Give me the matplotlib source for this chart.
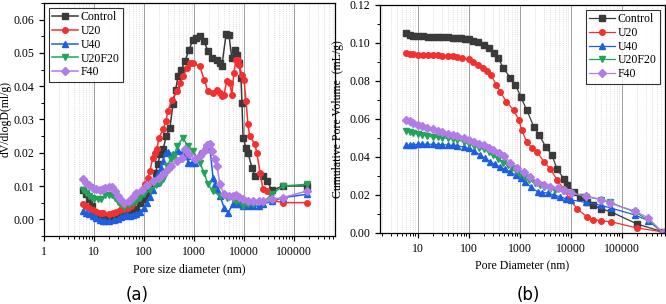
import numpy as np
import matplotlib
matplotlib.use('Agg')
import matplotlib.pyplot as plt
from matplotlib.ticker import LogLocator, NullFormatter, FuncFormatter, MultipleLocator

plt.rcParams['font.family'] = ['Liberation Serif', 'DejaVu Serif']

names = ['Control', 'U20', 'U40', 'U20F20', 'F40']
colors = ['#3a3a3a', '#f23030', '#1e5fe0', '#22a35a', '#b27ce6']
markers = ['s', 'o', '^', 'v', 'D']

# (a) dV/dlogD
d_ctrl = [6, 7, 8, 9, 10, 12, 15, 20, 25, 30, 38, 50, 60, 70, 83, 100, 115, 130, 150, 170, 190, 210, 240, 280, 330, 380, 430, 480, 560, 660, 800, 955, 1100, 1320, 1600, 1900, 2300, 2900, 3300, 3600, 4400, 5000, 5700, 6600, 7300, 8000, 8700, 9100, 9600, 11000, 12000, 14400, 16600, 24000, 29000, 36000, 60000, 180000]
v_ctrl = [0.0088, 0.0075, 0.006, 0.004, 0.0022, 0.0012, 0.0006, 0.0004, 0.0004, 0.0007, 0.0012, 0.0016, 0.0022, 0.0032, 0.0048, 0.0062, 0.0078, 0.0095, 0.0116, 0.014, 0.0167, 0.0195, 0.021, 0.025, 0.0275, 0.0346, 0.039, 0.043, 0.045, 0.0475, 0.051, 0.054, 0.0545, 0.055, 0.0535, 0.0505, 0.0484, 0.048, 0.047, 0.046, 0.0558, 0.0555, 0.0484, 0.051, 0.0495, 0.047, 0.0424, 0.035, 0.0245, 0.0215, 0.02, 0.0155, 0.013, 0.013, 0.0116, 0.0087, 0.010, 0.010]

d_u20 = [6, 7, 8, 9.5, 11, 13, 15, 20, 24, 28, 33, 40, 47, 55, 60, 70, 83, 95, 105, 120, 132, 150, 165, 180, 200, 240, 275, 300, 365, 460, 530, 600, 720, 850, 950, 1300, 1600, 1900, 2400, 2900, 3300, 3600, 4000, 4500, 5200, 5700, 6300, 6900, 7600, 7900, 9100, 10000, 11000, 12000, 13000, 16600, 18000, 21000, 24000, 29000, 38000, 60000, 180000]
v_u20 = [0.0045, 0.004, 0.0035, 0.0027, 0.0022, 0.0019, 0.0018, 0.0017, 0.0018, 0.0022, 0.0027, 0.003, 0.0033, 0.004, 0.0048, 0.006, 0.0075, 0.009, 0.0105, 0.0125, 0.0146, 0.0185, 0.02, 0.021, 0.0245, 0.027, 0.0295, 0.0325, 0.036, 0.0385, 0.041, 0.043, 0.0455, 0.047, 0.047, 0.046, 0.042, 0.0385, 0.038, 0.039, 0.038, 0.037, 0.0375, 0.0415, 0.041, 0.0375, 0.044, 0.048, 0.048, 0.0465, 0.0435, 0.042, 0.0355, 0.0285, 0.025, 0.0225, 0.02, 0.014, 0.009, 0.0085, 0.0057, 0.005, 0.005]

d_u40 = [6, 7, 8, 9.5, 11, 13, 15, 17, 20, 25, 30, 35, 40, 45, 52, 60, 70, 83, 100, 115, 130, 150, 170, 190, 215, 240, 270, 300, 380, 480, 600, 720, 760, 900, 1050, 1300, 1600, 1900, 2100, 2400, 2600, 2900, 3300, 4000, 4800, 6000, 7200, 8400, 9600, 12000, 15000, 20000, 24000, 36000, 60000, 180000]
v_u40 = [0.0025, 0.0018, 0.0015, 0.0011, 0.0005, -0.0002, -0.0004, -0.0005, -0.0005, -0.0003, 0.0002, 0.0008, 0.0011, 0.0012, 0.0011, 0.0013, 0.0017, 0.0022, 0.0035, 0.005, 0.0068, 0.0088, 0.011, 0.0137, 0.0155, 0.0176, 0.020, 0.0203, 0.0195, 0.0206, 0.020, 0.019, 0.017, 0.017, 0.017, 0.020, 0.021, 0.0227, 0.021, 0.0125, 0.0105, 0.009, 0.007, 0.0035, 0.002, 0.0045, 0.0045, 0.0045, 0.004, 0.004, 0.004, 0.004, 0.0045, 0.0055, 0.0065, 0.0075]

d_u20f20 = [6, 7, 8, 9, 10, 12, 14, 17, 20, 23, 26, 30, 33, 40, 50, 60, 70, 85, 100, 135, 170, 210, 240, 270, 290, 340, 400, 460, 600, 750, 960, 1300, 1600, 1900, 2400, 3300, 4500, 6000, 7000, 9600, 12000, 15000, 24000, 36000, 60000, 180000]
v_u20f20 = [0.0088, 0.0078, 0.007, 0.0063, 0.006, 0.006, 0.0062, 0.0072, 0.0073, 0.0072, 0.0065, 0.0052, 0.0045, 0.0038, 0.0043, 0.0048, 0.0055, 0.0065, 0.0075, 0.0087, 0.0102, 0.011, 0.012, 0.014, 0.016, 0.018, 0.019, 0.022, 0.0245, 0.022, 0.0206, 0.017, 0.014, 0.0105, 0.0085, 0.007, 0.0065, 0.006, 0.0055, 0.004, 0.0045, 0.0045, 0.005, 0.0075, 0.010, 0.0105]

d_f40 = [6, 7, 8, 9.5, 11, 13, 15, 17, 20, 23, 26, 30, 33, 40, 50, 60, 70, 90, 115, 150, 200, 240, 300, 350, 450, 575, 660, 800, 1050, 1300, 1600, 1800, 2100, 2300, 2600, 2900, 3300, 4000, 5000, 6000, 7000, 8000, 9600, 12000, 15000, 20000, 24000, 36000, 60000, 180000]
v_f40 = [0.0122, 0.011, 0.0102, 0.0095, 0.009, 0.0087, 0.009, 0.0094, 0.0096, 0.0098, 0.0085, 0.007, 0.006, 0.005, 0.0055, 0.0068, 0.0078, 0.0087, 0.0102, 0.0116, 0.0125, 0.0135, 0.015, 0.016, 0.0175, 0.0185, 0.021, 0.0195, 0.018, 0.019, 0.0205, 0.0224, 0.0225, 0.0205, 0.018, 0.016, 0.0105, 0.0075, 0.007, 0.007, 0.0072, 0.0068, 0.006, 0.0055, 0.0055, 0.0055, 0.0055, 0.006, 0.0065, 0.0085]

# (b) cumulative pore volume
c_ctrl_d = [6, 7, 8, 10, 13, 16, 20, 25, 30, 40, 50, 60, 70, 85, 100, 120, 150, 200, 250, 310, 380, 480, 660, 830, 1050, 1380, 1900, 2400, 3250, 4300, 5400, 7400, 8500, 11700, 15000, 21000, 28000, 40000, 63000, 200000, 650000]
c_ctrl_v = [0.105, 0.104, 0.1037, 0.1035, 0.1034, 0.1033, 0.1032, 0.1031, 0.103, 0.1029, 0.1028, 0.1026, 0.1024, 0.1021, 0.1018, 0.1012, 0.1003, 0.099, 0.0975, 0.0948, 0.092, 0.0868, 0.0815, 0.078, 0.0716, 0.0647, 0.0558, 0.0516, 0.0453, 0.041, 0.0337, 0.0284, 0.0253, 0.0216, 0.019, 0.0163, 0.0145, 0.0126, 0.011, 0.0047, 0.0005]

c_u20_d = [6, 7, 8, 10, 13, 16, 20, 25, 30, 40, 50, 60, 75, 100, 123, 155, 195, 230, 270, 350, 420, 550, 760, 960, 1100, 1380, 1750, 2200, 3000, 4000, 5400, 7400, 9400, 13500, 21000, 28000, 40000, 63000, 200000, 650000]
c_u20_v = [0.0945, 0.0942, 0.094, 0.0938, 0.0937, 0.0936, 0.0935, 0.0934, 0.0933, 0.0931, 0.093, 0.0927, 0.0922, 0.0913, 0.090, 0.0885, 0.0868, 0.085, 0.0832, 0.078, 0.0742, 0.069, 0.0647, 0.0595, 0.054, 0.048, 0.0447, 0.0426, 0.0374, 0.0337, 0.028, 0.023, 0.018, 0.0126, 0.0084, 0.007, 0.0063, 0.0058, 0.0026, 0.0005]

c_u40_d = [6, 7, 8, 10, 12, 15, 20, 25, 30, 40, 50, 60, 80, 100, 130, 170, 210, 265, 330, 415, 520, 660, 850, 1050, 1300, 1650, 2250, 2800, 3550, 4800, 6300, 8000, 10000, 20000, 40000, 63000, 180000, 330000, 650000]
c_u40_v = [0.046, 0.0462, 0.0464, 0.0466, 0.0467, 0.0467, 0.0466, 0.0465, 0.0464, 0.0462, 0.046, 0.0458, 0.0452, 0.0445, 0.043, 0.041, 0.0392, 0.0374, 0.036, 0.0347, 0.0335, 0.032, 0.0305, 0.029, 0.0268, 0.0242, 0.0216, 0.0212, 0.021, 0.0198, 0.019, 0.018, 0.0174, 0.016, 0.0145, 0.013, 0.0095, 0.0065, 0.0]

c_u20f20_d = [6, 7, 8, 10, 12, 15, 20, 25, 30, 40, 50, 60, 80, 100, 130, 160, 200, 250, 300, 380, 480, 580, 700, 850, 1000, 1250, 1500, 2000, 2500, 3000, 4000, 5000, 7000, 10000, 20000, 40000, 60000, 180000, 330000, 650000]
c_u20f20_v = [0.0535, 0.053, 0.0525, 0.052, 0.0514, 0.051, 0.0505, 0.0502, 0.05, 0.0497, 0.0495, 0.049, 0.048, 0.047, 0.0458, 0.0448, 0.044, 0.0425, 0.041, 0.039, 0.037, 0.0355, 0.034, 0.0325, 0.031, 0.0295, 0.028, 0.026, 0.025, 0.024, 0.023, 0.0225, 0.0218, 0.021, 0.019, 0.0175, 0.016, 0.011, 0.007, 0.0]

c_f40_d = [6, 7, 8, 10, 12, 15, 20, 25, 30, 40, 50, 60, 80, 100, 130, 160, 200, 250, 300, 400, 500, 660, 900, 1200, 1600, 2200, 3000, 4000, 5600, 7500, 10000, 20000, 40000, 60000, 180000, 330000, 650000]
c_f40_v = [0.0595, 0.0588, 0.058, 0.057, 0.0562, 0.0552, 0.0545, 0.0535, 0.053, 0.052, 0.0515, 0.051, 0.05, 0.049, 0.0478, 0.047, 0.046, 0.0448, 0.0435, 0.042, 0.0405, 0.0368, 0.034, 0.032, 0.0295, 0.027, 0.025, 0.0242, 0.0235, 0.0225, 0.021, 0.0195, 0.0175, 0.0155, 0.0115, 0.008, 0.0]

dist = [(d_ctrl, v_ctrl), (d_u20, v_u20), (d_u40, v_u40), (d_u20f20, v_u20f20), (d_f40, v_f40)]
cum = [(c_ctrl_d, c_ctrl_v), (c_u20_d, c_u20_v), (c_u40_d, c_u40_v), (c_u20f20_d, c_u20f20_v), (c_f40_d, c_f40_v)]

fig = plt.figure(figsize=(6.66, 3.04), dpi=100)
ax1 = fig.add_axes([0.066, 0.224, 0.437, 0.766])
ax2 = fig.add_axes([0.571, 0.234, 0.427, 0.75])

for ax in (ax1, ax2):
    ax.set_xscale('log')
    ax.xaxis.set_major_locator(LogLocator(base=10, numticks=10))
    ax.xaxis.set_minor_locator(LogLocator(base=10, subs=np.arange(2, 10), numticks=20))
    ax.xaxis.set_minor_formatter(NullFormatter())
    ax.xaxis.set_major_formatter(FuncFormatter(lambda x, p: '%d' % round(x)))
    ax.grid(True, which='major', axis='x', color='#a0a0a0', lw=0.7)
    ax.grid(True, which='minor', axis='x', color='#c8c8c8', lw=0.5, ls=':')
    ax.tick_params(which='major', direction='out', length=3.5, width=0.9, labelsize=8.5)
    ax.tick_params(which='minor', direction='out', length=2, width=0.7)
    ax.set_axisbelow(True)
    for s in ax.spines.values():
        s.set_linewidth(0.9)

for (d, v), n, c, m in zip(dist, names, colors, markers):
    ax1.plot(d, v, color=c, marker=m, ms=4, lw=1.1, label=n)
for (d, v), n, c, m in zip(cum, names, colors, markers):
    ax2.plot(d, v, color=c, marker=m, ms=4, lw=0.9, label=n)

ax1.set_xlim(1, 6.6e5)
ax1.set_ylim(-0.005, 0.065)
ax1.yaxis.set_major_locator(MultipleLocator(0.01))
ax1.yaxis.set_minor_locator(MultipleLocator(0.005))
ax1.yaxis.set_major_formatter(FuncFormatter(lambda y, p: '%.2f' % y))
ax1.set_xlabel('Pore size diameter (nm)', fontsize=8.5)
ax1.set_ylabel('dV/dlogD(ml/g)', fontsize=8.5, labelpad=1)
ax1.legend(loc='upper left', fontsize=8.5, frameon=True, fancybox=False, edgecolor='black',
           handlelength=2.2, borderpad=0.3, labelspacing=0.15, handletextpad=0.2,
           borderaxespad=0.4).get_frame().set_linewidth(0.8)

ax2.set_xlim(1.85, 7e5)
ax2.set_ylim(0, 0.12)
ax2.yaxis.set_major_locator(MultipleLocator(0.02))
ax2.yaxis.set_minor_locator(MultipleLocator(0.01))
ax2.yaxis.set_major_formatter(FuncFormatter(lambda y, p: '%.2f' % y))
ax2.set_xlabel('Pore Diameter (nm)', fontsize=8.5)
ax2.set_ylabel('Cumulative Pore Volume  (mL/g)', fontsize=8.5)
ax2.legend(loc='upper right', fontsize=8.5, frameon=True, fancybox=False, edgecolor='black',
           handlelength=2.2, borderpad=0.3, labelspacing=0.15, handletextpad=0.2,
           borderaxespad=0.4).get_frame().set_linewidth(0.8)

fig.text(0.206, 0.03, '(a)', fontsize=12, family='DejaVu Sans', ha='center', va='center')
fig.text(0.793, 0.03, '(b)', fontsize=12, family='DejaVu Sans', ha='center', va='center')

fig.savefig('out.png', dpi=100)
